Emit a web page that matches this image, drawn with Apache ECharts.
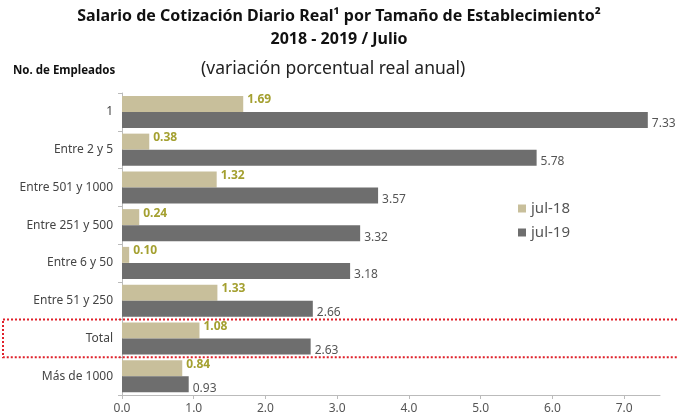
<!DOCTYPE html>
<html>
<head>
<meta charset="utf-8">
<script src="https://cdn.jsdelivr.net/npm/echarts@6/dist/echarts.min.js"></script>
<style>
  html, body { margin: 0; padding: 0; background: #fff; }
  #chart { width: 678px; height: 419px; }
</style>
</head>
<body>
<div id="chart"></div>
<script>
// categorias, de arriba hacia abajo
const categories = ['1', 'Entre 2 y 5', 'Entre 501 y 1000', 'Entre 251 y 500',
  'Entre 6 y 50', 'Entre 51 y 250', 'Total', 'Más de 1000'];
const jul18 = [1.69, 0.38, 1.32, 0.24, 0.10, 1.33, 1.08, 0.84];
const jul19 = [7.33, 5.78, 3.57, 3.32, 3.18, 2.66, 2.63, 0.93];
const seriesNames = ['jul-18', 'jul-19'];
const xTicks = { min: 0, max: 7.5, interval: 1 };
const highlighted = 'Total';

const font = '"Noto Sans", "DejaVu Sans", sans-serif';
const chart = echarts.init(document.getElementById('chart'));

const option = {
  animation: false,
  textStyle: { fontFamily: font },
  title: [{
    text: 'Salario de Cotización Diario Real¹ por Tamaño de Establecimiento²',
    left: 'center', top: 3,
    textStyle: { fontSize: 16, fontWeight: 'bold', color: '#111' }
  }, {
    text: '2018 - 2019 / Julio',
    left: 'center', top: 26,
    textStyle: { fontSize: 16, fontWeight: 'bold', color: '#111' }
  }, {
    text: 'No. de Empleados',
    left: 8, top: 60,
    textStyle: { fontSize: 11.5, fontWeight: 'bold', color: '#111' }
  }, {
    text: '(variación porcentual real anual)',
    left: 196, top: 55,
    textStyle: { fontSize: 17.5, fontWeight: 'normal', color: '#222' }
  }],
  legend: {
    data: seriesNames,
    orient: 'vertical',
    icon: 'rect',
    left: 513, top: 196,
    itemWidth: 8, itemHeight: 8,
    itemGap: 9,
    textStyle: { fontSize: 15, color: '#555' }
  },
  grid: { left: 122, right: 18, top: 93, bottom: 24 },
  xAxis: {
    type: 'value',
    min: xTicks.min, max: xTicks.max, interval: xTicks.interval,
    splitLine: { show: false },
    axisLine: { show: true, lineStyle: { color: '#bbb' } },
    axisTick: { show: true, length: 4, lineStyle: { color: '#bbb' } },
    axisLabel: {
      showMaxLabel: false,
      fontSize: 12, color: '#555', margin: 8,
      formatter: v => v.toFixed(1)
    }
  },
  yAxis: {
    type: 'category',
    data: categories,
    inverse: true,
    axisLine: { lineStyle: { color: '#bbb' } },
    axisTick: { show: true, length: 4, lineStyle: { color: '#bbb' } },
    axisLabel: { fontSize: 12, color: '#444', margin: 9 }
  },
  series: [{
    name: seriesNames[0],
    type: 'bar',
    data: jul18,
    barWidth: 16,
    barGap: '0%',
    itemStyle: { color: '#c8bf9b' },
    label: {
      show: true, position: 'right', distance: 4, offset: [0, -4],
      fontSize: 12, fontWeight: 'bold', color: '#a4a030',
      formatter: p => p.value.toFixed(2)
    }
  }, {
    name: seriesNames[1],
    type: 'bar',
    data: jul19,
    barWidth: 16,
    itemStyle: { color: '#6e6e6e' },
    label: {
      show: true, position: 'right', distance: 4, offset: [0, 4],
      fontSize: 12, color: '#555',
      formatter: p => p.value.toFixed(2)
    }
  }]
};

chart.setOption(option);

// recuadro punteado alrededor de la categoria destacada
const idx = categories.indexOf(highlighted);
const yc = chart.convertToPixel({ yAxisIndex: 0 }, idx);
const yPrev = chart.convertToPixel({ yAxisIndex: 0 }, idx - 1);
const band = Math.abs(yc - yPrev);
chart.setOption({
  graphic: [{
    type: 'rect',
    shape: { x: 3, y: yc - band / 2, width: 700, height: band },
    style: { fill: 'none', stroke: '#e0202a', lineWidth: 2, lineDash: [2, 2] },
    z: 10
  }]
});
</script>
</body>
</html>
